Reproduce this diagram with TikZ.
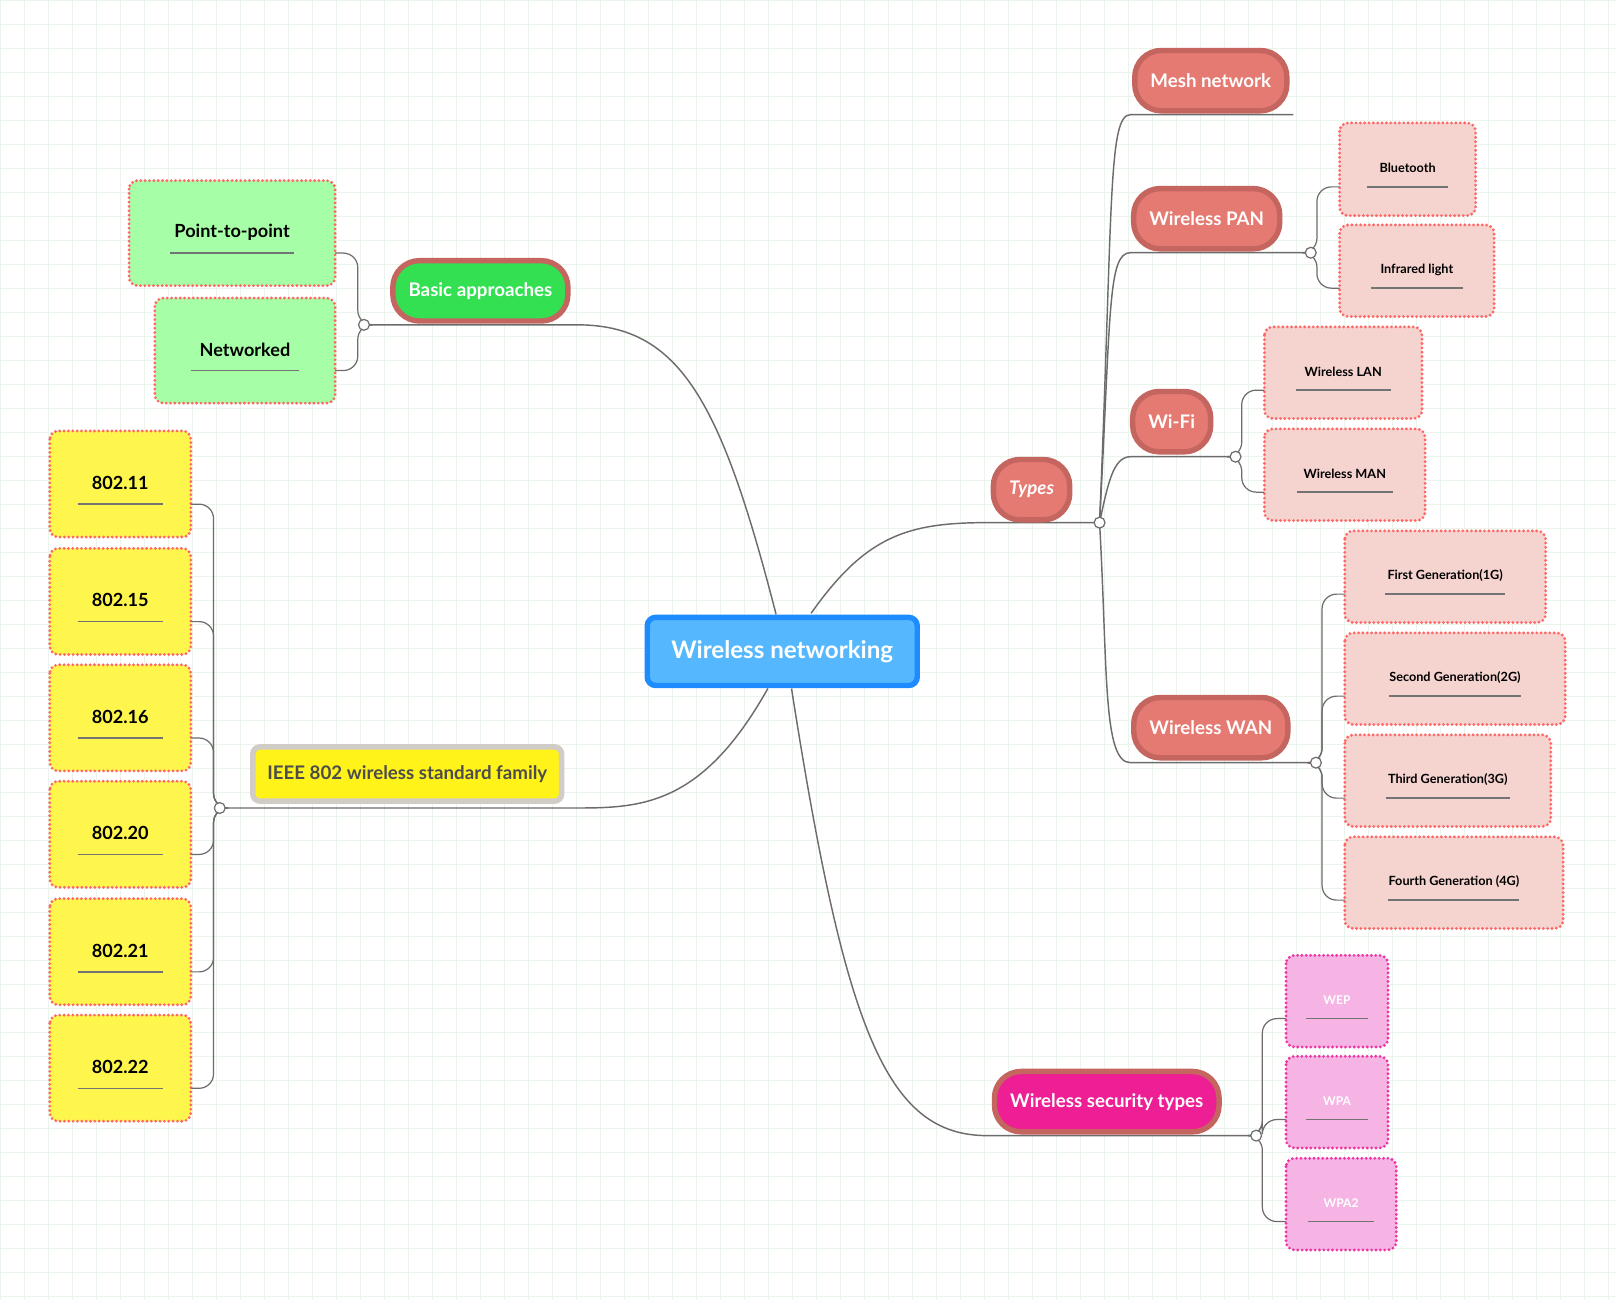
\documentclass[tikz,border=0pt]{standalone}
\usepackage{fontspec}
\setmainfont{Lato}
\definecolor{salm}{HTML}{E57A72}
\definecolor{salmb}{HTML}{C4665F}
\definecolor{cblue}{HTML}{55B8FF}
\definecolor{cbord}{HTML}{1E8CFF}
\definecolor{pinkl}{HTML}{F5D3CF}
\definecolor{magl}{HTML}{F5B4E4}
\begin{document}
\begin{tikzpicture}[x=0.03cm,y=-0.03cm,
  conn/.style={draw=gray!85!black,line width=1.2pt},
  jn/.style={circle,draw=gray!85!black,fill=white,line width=1pt,inner sep=0pt,minimum size=9pt},
  pill/.style={rounded corners=22pt,draw=salmb,line width=4.5pt,fill=#1,text=white,inner xsep=13pt,font=\bfseries\fontsize{15.5}{18}\selectfont},
  leaf/.style={rounded corners=7pt,fill=#1,line width=2.6pt,dash pattern=on 0pt off 3.6pt,line cap=round},
  ul/.style={draw=gray!90!black,line width=1.1pt}]
\fill[white] (0,0) rectangle (1568,1262);
\foreach \i in {0,...,67} \draw[green!30!gray!12,line width=0.5pt] ({\i*23.3},0) -- ({\i*23.3},1262);
\foreach \i in {0,...,54} \draw[green!30!gray!12,line width=0.5pt] (0,{\i*23.3}) -- (1568,{\i*23.3});
\useasboundingbox (0,0) rectangle (1568,1262);
\newcommand\leaf[9]{%
  \draw[leaf=#7,draw=#8] (#2,#3) rectangle (#4,#5);
  \node[font=\bfseries\fontsize{#9}{12}\selectfont,text=#6] (#1) at ({(#2+#4)/2},{#3+0.49*(#5-#3)}) {\csname lt#1\endcsname};
  \draw[ul] ({(#2+#4)/2-0.3*(#4-#2)},{#3+0.69*(#5-#3)}) -- ({(#2+#4)/2+0.3*(#4-#2)},{#3+0.69*(#5-#3)});
  \coordinate (#1L) at (#2,{#3+0.69*(#5-#3)});
  \coordinate (#1R) at (#4,{#3+0.69*(#5-#3)});}
% texts
\def\ltpp{Point-to-point}\def\ltnw{Networked}
\def\lta{802.11}\def\ltb{802.15}\def\ltc{802.16}\def\ltd{802.20}\def\lte{802.21}\def\ltf{802.22}
\def\ltbt{Bluetooth}\def\ltir{Infrared light}\def\ltlan{Wireless LAN}\def\ltman{Wireless MAN}
\def\ltga{First Generation(1G)}\def\ltgb{Second Generation(2G)}\def\ltgc{Third Generation(3G)}\def\ltgd{Fourth Generation (4G)}
\def\ltwep{WEP}\def\ltwpa{WPA}\def\ltwpb{WPA2}
% junctions coords
\coordinate (jB) at (353,315); \coordinate (jI) at (213,784); \coordinate (jT) at (1067,507);
\coordinate (jP) at (1272,245); \coordinate (jW) at (1199,443); \coordinate (jG) at (1277,740); \coordinate (jS) at (1219,1102);
% center
\node[rounded corners=7pt,fill=cblue,draw=cbord,line width=4.5pt,text=white,font=\bfseries\fontsize{20}{24}\selectfont,inner xsep=20pt,inner ysep=19pt] (c) at (759,632) {Wireless networking};
% main connectors
\draw[conn] (753,596) .. controls (700,390) and (660,315) .. (560,315) -- (jB);
\draw[conn] (745,668) .. controls (680,784) and (620,784) .. (555,784) -- (jI);
\draw[conn] (787,595) .. controls (840,520) and (880,507) .. (958,507) -- (jT);
\draw[conn] (768,668) .. controls (820,1000) and (860,1102) .. (958,1102) -- (jS);
% types branches
\draw[conn] (jT) .. controls (1080,200) and (1075,111) .. (1097,111) -- (1255,111);
\draw[conn] (jT) .. controls (1078,300) and (1075,245) .. (1097,245) -- (jP);
\draw[conn] (jT) .. controls (1075,470) and (1080,443) .. (1097,443) -- (jW);
\draw[conn] (jT) .. controls (1075,650) and (1070,740) .. (1097,740) -- (jG);
% pills
\node[pill=green!70!teal!80,minimum height=50pt] (ba) at (466,282) {Basic approaches};
\node[rounded corners=6pt,draw=brown!25!gray!40,fill=yellow!90!white,line width=4.5pt,text=gray!60!black,font=\bfseries\fontsize{15.5}{18}\selectfont,minimum height=45pt,inner xsep=12pt] (ie) at (395,751) {IEEE 802 wireless standard family};
\node[pill=salm,font=\bfseries\itshape\fontsize{15.5}{18}\selectfont,minimum height=50pt] (ty) at (1001,475) {Types};
\node[pill=salm,minimum height=50pt] (me) at (1175,78) {Mesh network};
\node[pill=salm,minimum height=50pt] (pa) at (1171,212) {Wireless PAN};
\node[pill=salm,minimum height=50pt] (wf) at (1137,409) {Wi-Fi};
\node[pill=salm,minimum height=50pt] (wa) at (1175,706) {Wireless WAN};
\node[pill=magenta!85!pink,minimum height=50pt] (se) at (1074,1069) {Wireless security types};
% leaves
\leaf{pp}{125}{175}{325}{277}{black}{green!35}{red!60}{15}
\leaf{nw}{150}{289}{325}{391}{black}{green!35}{red!60}{15}
\leaf{a}{48}{418}{185}{521}{black}{yellow!70}{red!60}{15}
\leaf{b}{48}{532}{185}{635}{black}{yellow!70}{red!60}{15}
\leaf{c}{48}{645}{185}{748}{black}{yellow!70}{red!60}{15}
\leaf{d}{48}{758}{185}{861}{black}{yellow!70}{red!60}{15}
\leaf{e}{48}{872}{185}{975}{black}{yellow!70}{red!60}{15}
\leaf{f}{48}{985}{185}{1088}{black}{yellow!70}{red!60}{15}
\leaf{bt}{1300}{119}{1432}{209}{black}{pinkl}{red!60}{10.5}
\leaf{ir}{1300}{218}{1450}{307}{black}{pinkl}{red!60}{10.5}
\leaf{lan}{1227}{317}{1380}{406}{black}{pinkl}{red!60}{10.5}
\leaf{man}{1227}{416}{1383}{505}{black}{pinkl}{red!60}{10.5}
\leaf{ga}{1305}{515}{1500}{604}{black}{pinkl}{red!60}{10.5}
\leaf{gb}{1305}{614}{1519}{703}{black}{pinkl}{red!60}{10.5}
\leaf{gc}{1305}{713}{1505}{802}{black}{pinkl}{red!60}{10.5}
\leaf{gd}{1305}{812}{1517}{901}{black}{pinkl}{red!60}{10.5}
\leaf{wep}{1248}{927}{1347}{1016}{white}{magl}{magenta!80}{10}
\leaf{wpa}{1248}{1025}{1347}{1114}{white}{magl}{magenta!80}{10}
\leaf{wpb}{1248}{1124}{1355}{1213}{white}{magl}{magenta!80}{10}
% leaf connectors
\foreach \j/\l in {jB/pp,jB/nw,jI/a,jI/b,jI/c,jI/d,jI/e,jI/f}
  \draw[conn,line width=1pt,rounded corners=12pt] (\j) -- ++(-6,0) |- (\l R);
\foreach \j/\l in {jP/bt,jP/ir,jW/lan,jW/man,jG/ga,jG/gb,jG/gc,jG/gd,jS/wep,jS/wpa,jS/wpb}
  \draw[conn,line width=1pt,rounded corners=12pt] (\j) -- ++(6,0) |- (\l L);
\foreach \j in {jB,jI,jT,jP,jW,jG,jS} \node[jn] (n\j) at (\j) {};
\end{tikzpicture}
\end{document}
